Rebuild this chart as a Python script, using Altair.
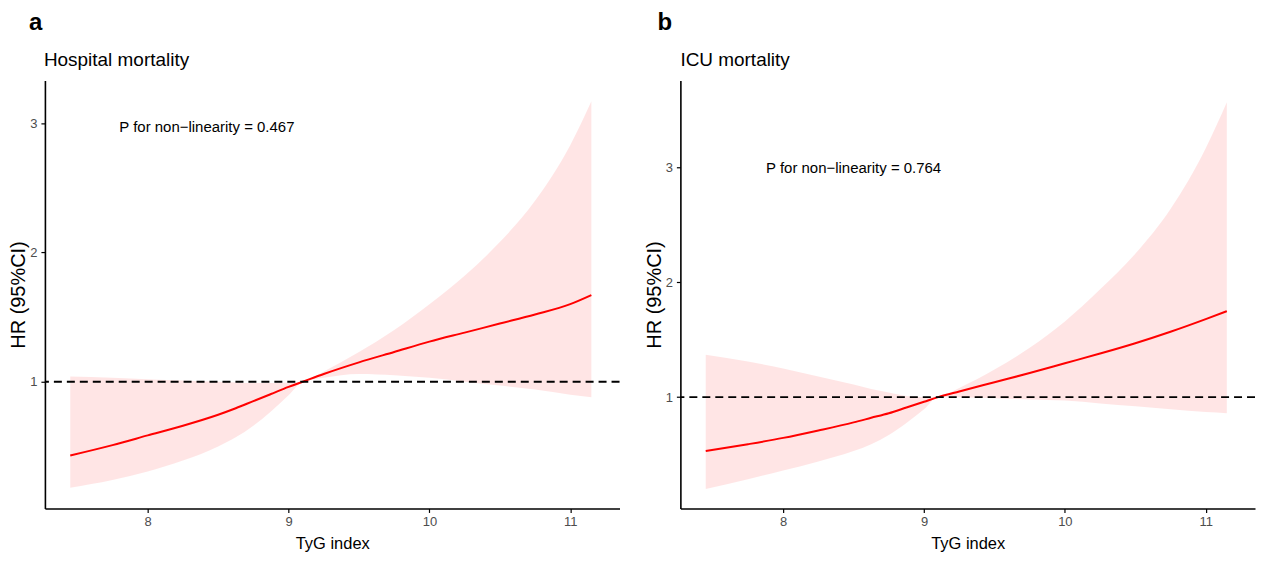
import altair as alt
import pandas as pd

# ---- data ----
X = [7.45, 7.75, 8.0, 8.25, 8.5, 8.625, 8.75, 8.875, 9.0, 9.1, 9.25, 9.5, 9.75,
     10.0, 10.25, 10.5, 10.75, 11.0, 11.15]

HR_A = [0.43, 0.51, 0.585, 0.66, 0.745, 0.795, 0.85, 0.905, 0.96, 1.0, 1.06, 1.15, 1.23,
        1.31, 1.38, 1.45, 1.52, 1.60, 1.67]
LO_A = [0.18, 0.24, 0.305, 0.39, 0.50, 0.57, 0.66, 0.77, 0.895, 1.0, 1.03, 1.06, 1.05,
        1.03, 1.0, 0.97, 0.94, 0.90, 0.88]
UP_A = [1.04, 1.03, 1.02, 1.01, 1.0, 0.995, 0.99, 0.99, 0.995, 1.0, 1.08, 1.23, 1.40,
        1.60, 1.82, 2.08, 2.40, 2.83, 3.17]

HR_B = [0.53, 0.59, 0.645, 0.71, 0.78, 0.82, 0.86, 0.91, 0.96, 1.0, 1.05, 1.13, 1.21,
        1.295, 1.38, 1.47, 1.57, 1.68, 1.75]
LO_B = [0.20, 0.285, 0.36, 0.44, 0.53, 0.59, 0.67, 0.775, 0.895, 1.0, 1.0, 0.99, 0.98,
        0.97, 0.945, 0.92, 0.895, 0.87, 0.86]
UP_B = [1.37, 1.31, 1.25, 1.18, 1.11, 1.07, 1.04, 1.01, 1.0, 1.0, 1.08, 1.24, 1.43,
        1.66, 1.94, 2.25, 2.64, 3.17, 3.57]

X_TICKS = [8, 9, 10, 11]
Y_TICKS = [1, 2, 3]
X_DOMAIN = [7.27, 11.35]
Y_DOMAIN_A = [0.02, 3.33]
Y_DOMAIN_B = [0.03, 3.76]
REF = [1]

LETTERS = ["a", "b"]
TITLES = ["Hospital mortality", "ICU mortality"]
P_TEXTS = ["P for non\u2212linearity = 0.467", "P for non\u2212linearity = 0.764"]
P_X = [8.42, 8.5]
P_Y = [2.97, 3.0]

FONT = "Liberation Sans, Arial, Helvetica, sans-serif"


def panel(i, hr, lo, up, ydom, letter_dx, title_dx):
    df = pd.DataFrame({"x": X, "hr": hr, "lo": lo, "up": up})
    xs = alt.Scale(domain=X_DOMAIN, nice=False, zero=False)
    ys = alt.Scale(domain=ydom, nice=False, zero=False)
    xax = alt.Axis(values=X_TICKS, title="TyG index", titleFont=FONT, titleFontSize=16.5,
                   titleFontWeight="normal", titleColor="black", titlePadding=7,
                   labelFont=FONT, labelFontSize=13, labelPadding=3, grid=False)
    yax = alt.Axis(values=Y_TICKS, title="HR (95%CI)", titleFont=FONT, titleFontSize=20,
                   titleFontWeight="normal", titleColor="black", titlePadding=1,
                   labelFont=FONT, labelFontSize=13, labelPadding=4, grid=False)
    X_ = lambda f: alt.X(f, scale=xs, axis=xax)
    Y_ = lambda f: alt.Y(f, scale=ys, axis=yax)

    base = alt.Chart(df)
    band = base.mark_area(color="#ff0000", opacity=0.1, interpolate="monotone").encode(
        x=X_("x:Q"), y=Y_("lo:Q"), y2="up:Q")
    line = base.mark_line(color="#ff0000", strokeWidth=2, interpolate="monotone").encode(
        x=X_("x:Q"), y=Y_("hr:Q"))
    ref = alt.Chart(pd.DataFrame({"ref": REF})).mark_rule(
        color="black", strokeWidth=1.8, strokeDash=[8, 5]).encode(y=Y_("ref:Q"))
    ptxt = alt.Chart(pd.DataFrame({"x": [P_X[i]], "y": [P_Y[i]], "t": [P_TEXTS[i]]})).mark_text(
        font=FONT, fontSize=15, align="center", baseline="middle", color="black").encode(
        x=X_("x:Q"), y=Y_("y:Q"), text="t:N")
    one = alt.Data(values=[{"k": 0}])
    letter = alt.Chart(one).mark_text(
        text=LETTERS[i], font=FONT, fontSize=24, fontWeight="bold", align="left",
        baseline="alphabetic", color="black").encode(x=alt.value(letter_dx), y=alt.value(-51))
    ttl = alt.Chart(one).mark_text(
        text=TITLES[i], font=FONT, fontSize=19, align="left",
        baseline="alphabetic", color="black").encode(x=alt.value(title_dx), y=alt.value(-15))
    return alt.layer(band, line, ref, ptxt, letter, ttl).properties(width=576, height=429)


pa = panel(0, HR_A, LO_A, UP_A, Y_DOMAIN_A, -16, -1)
pb = panel(1, HR_B, LO_B, UP_B, Y_DOMAIN_B, -23, 0)

chart = alt.hconcat(pa, pb, spacing=23).properties(
    padding={"left": 0, "top": 2, "right": 0, "bottom": 0}
).configure_view(stroke=None).configure_axis(
    grid=False, domainColor="black", domainWidth=1.6, tickColor="black",
    tickWidth=1.2, tickSize=4, labelColor="#4d4d4d"
)

chart.save("out.html", embed_options={"renderer": "svg", "actions": False})
